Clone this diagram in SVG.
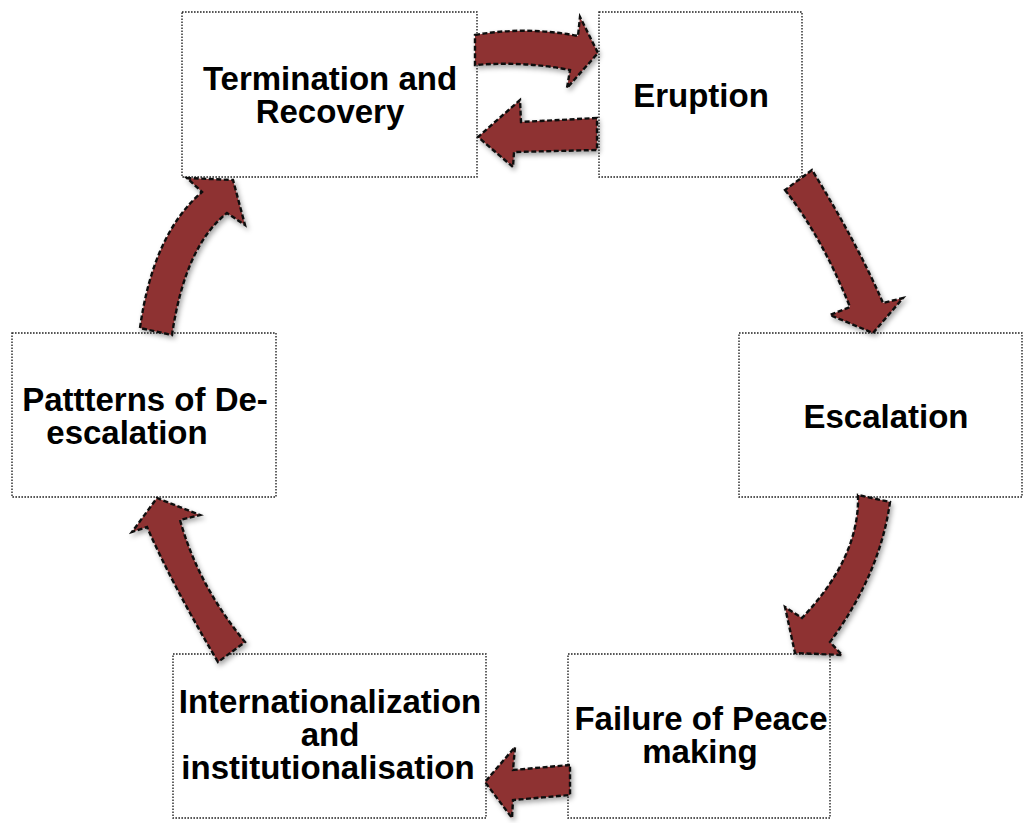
<svg xmlns="http://www.w3.org/2000/svg" width="1024" height="823" viewBox="0 0 1024 823">
  <defs>
    <filter id="shadow" x="-20%" y="-20%" width="140%" height="140%">
      <feDropShadow dx="2" dy="3" stdDeviation="2.5" flood-color="#000" flood-opacity="0.35"/>
    </filter>
    <style>
      .box { fill: #ffffff; stroke: #222; stroke-width: 1.4; stroke-dasharray: 1.6 1.4; }
      .label { font-family: "Liberation Sans", Arial, sans-serif; font-weight: bold; font-size: 33px; fill: #000; text-anchor: middle; }
      .arrow { fill: #8e3232; stroke: #111; stroke-width: 2.4; stroke-dasharray: 5 2.5; stroke-linejoin: miter; filter: url(#shadow); }
    </style>
  </defs>
  <rect width="1024" height="823" fill="#ffffff"/>

  <g id="node-termination">
    <rect class="box" x="182" y="12" width="295" height="165"/>
    <text class="label" x="330" y="90">Termination and</text>
    <text class="label" x="330" y="123">Recovery</text>
  </g>
  <g id="node-eruption">
    <rect class="box" x="599" y="12" width="203" height="165"/>
    <text class="label" x="701" y="107">Eruption</text>
  </g>
  <g id="node-escalation">
    <rect class="box" x="739" y="333" width="283" height="164"/>
    <text class="label" x="886" y="428">Escalation</text>
  </g>
  <g id="node-failure">
    <rect class="box" x="568" y="654" width="262" height="164"/>
    <text class="label" x="701" y="730">Failure of Peace</text>
    <text class="label" x="700" y="763">making</text>
  </g>
  <g id="node-internationalization">
    <rect class="box" x="173" y="654" width="313" height="164"/>
    <text class="label" x="330" y="713">Internationalization</text>
    <text class="label" x="330" y="746">and</text>
    <text class="label" x="328" y="779">institutionalisation</text>
  </g>
  <g id="node-deescalation">
    <rect class="box" x="12" y="333" width="264" height="164"/>
    <text class="label" x="145" y="411">Pattterns of De-</text>
    <text class="label" x="127" y="444">escalation</text>
  </g>

  <g id="connectors">
    <!-- Termination -> Eruption -->
    <path class="arrow" d="M475,35 Q526,26 578,36 L580,17 L598,53 L567,88 L570,70 Q524,61 475,65 Z"/>
    <!-- Eruption -> Termination -->
    <path class="arrow" d="M597,118 L521,122 L520,100 L478,137 L513,167 L514,152 L597,150 Z"/>
    <!-- Eruption -> Escalation -->
    <path class="arrow" d="M785,190 Q822,237 850,307 L830,315 L873,333 L903,298 L883,303 Q857,243 812,170 Z"/>
    <!-- Escalation -> Failure of Peace making -->
    <path class="arrow" d="M858,495 Q860,557 802,618 L785,607 L795,653 L842,655 L830,642 Q880,574 890,502 Z"/>
    <!-- Failure of Peace making -> Internationalization -->
    <path class="arrow" d="M570,765 L513,770 L515,747 L485,782 L512,818 L513,800 L570,795 Z"/>
    <!-- Internationalization -> Patterns of De-escalation -->
    <path class="arrow" d="M218,662 Q173,586 147,527 L132,532 L157,498 L200,515 L180,520 Q198,585 245,642 Z"/>
    <!-- Patterns of De-escalation -> Termination -->
    <path class="arrow" d="M140,328 Q153,234 202,192 L187,178 L233,180 L245,225 L227,213 Q185,246 172,335 Z"/>
  </g>
</svg>
